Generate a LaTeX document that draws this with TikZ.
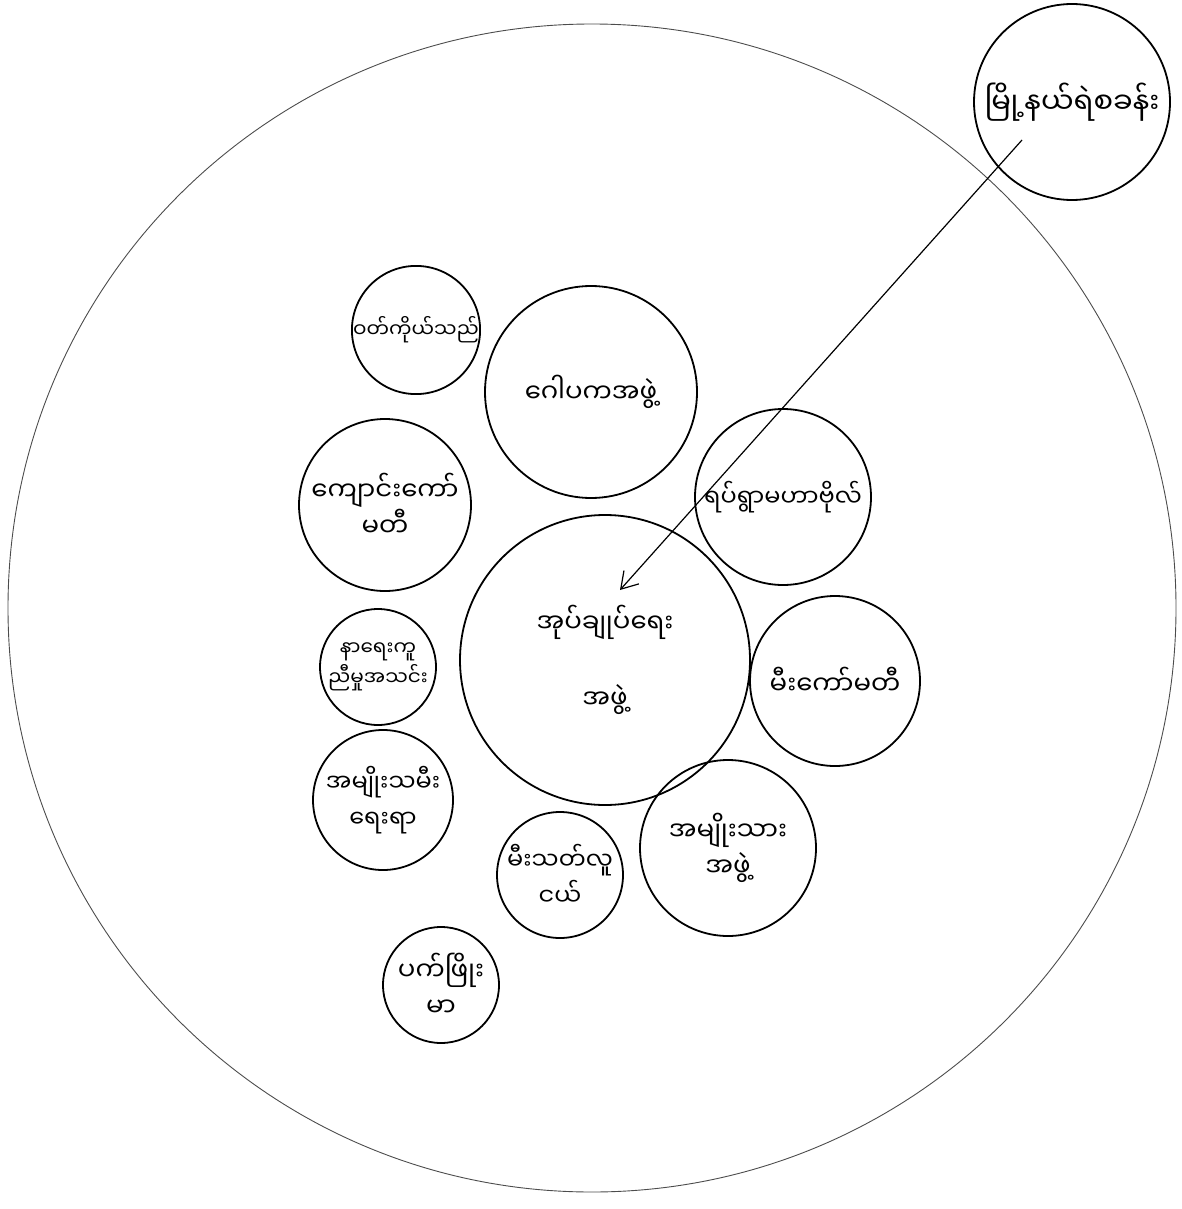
\documentclass[tikz,border=0pt]{standalone}
\usepackage{fontspec}
\newfontfamily\myanfont[Script=Myanmar]{Noto Sans Myanmar UI}
\usetikzlibrary{arrows.meta}

\tikzset{
  bubble/.style={circle, draw, line width=1.8pt, inner sep=0pt, align=center,
    font=\myanfont\fontsize{26}{36}\selectfont},
  smalltext/.style={font=\myanfont\fontsize{20}{30}\selectfont},
  midtext/.style={font=\myanfont\fontsize{24}{36}\selectfont},
  bigtext/.style={font=\myanfont\fontsize{29}{36}\selectfont},
}

\begin{document}
\begin{tikzpicture}[x=1pt,y=-1pt]
\useasboundingbox (0,0) rectangle (1182,1209);
\draw[line width=0.9pt, black!70] (592,608) circle (584pt);
\node[bubble, bigtext, minimum size=196pt] (police) at (1072,102) {မြို့နယ်ရဲစခန်း};
\node[bubble, smalltext, minimum size=110pt] (trader) at (416,330) {ဝတ်ကိုယ်သည်};
\node[bubble, minimum size=212pt] (gopaka) at (591,392) {ဂေါပကအဖွဲ့};
\node[bubble, minimum size=172pt] (school) at (385,505) {ကျောင်းကော်\\မတီ};
\node[bubble, midtext, minimum size=176pt] (bogyoke) at (783,497) {ရပ်ရွာမဟာဗိုလ်};
\node[bubble, minimum size=290pt] (admin) at (605,660) {အုပ်ချုပ်ရေး\\[40pt]အဖွဲ့};
\node[bubble, smalltext, minimum size=116pt] (funeral) at (378,667) {နာရေးကူ\\ညီမှုအသင်း};
\node[bubble, minimum size=170pt] (light) at (835,681) {မီးကော်မတီ};
\node[bubble, midtext, minimum size=140pt] (women) at (383,800) {အမျိုးသမီး\\ရေးရာ};
\node[bubble, midtext, minimum size=126pt] (fire) at (560,875) {မီးသတ်လူ\\ငယ်};
\node[bubble, minimum size=176pt] (men) at (728,848) {အမျိုးသား\\အဖွဲ့};
\node[bubble, minimum size=116pt] (youth) at (441,985) {ပက်ဖြိုး\\မာ};
\coordinate (tail) at (1022,140);
\coordinate (tip) at (620,590);
\draw[line width=1.2pt, -{Straight Barb[length=16pt,width=20pt]}] (tail) -- (tip);
\end{tikzpicture}
\end{document}
